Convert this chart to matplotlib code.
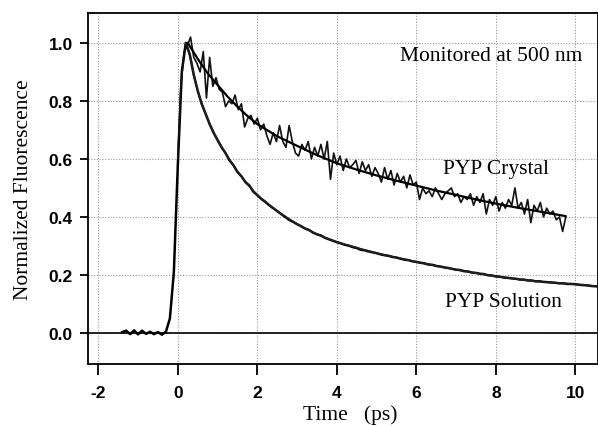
import numpy as np
import matplotlib
matplotlib.use("Agg")
import matplotlib.pyplot as plt

# ---- data ----
crys_t0, crys_dt = 0.0, 0.08
crystal = [0.60, 0.86, 0.97, 0.99, 1.02, 0.95, 0.93, 0.90, 0.97, 0.81,
           0.95, 0.85, 0.88, 0.84, 0.83, 0.78, 0.80, 0.79, 0.82, 0.77,
           0.79, 0.71, 0.74, 0.75, 0.72, 0.74, 0.70, 0.72, 0.68, 0.65,
           0.69, 0.66, 0.715, 0.66, 0.64, 0.715, 0.66, 0.62, 0.61, 0.65,
           0.63, 0.66, 0.60, 0.64, 0.61, 0.65, 0.60, 0.66, 0.53, 0.62,
           0.58, 0.61, 0.56, 0.60, 0.57, 0.58, 0.595, 0.55, 0.59, 0.56,
           0.58, 0.54, 0.57, 0.55, 0.52, 0.57, 0.53, 0.56, 0.51, 0.55,
           0.52, 0.54, 0.50, 0.545, 0.51, 0.52, 0.46, 0.50, 0.48, 0.49,
           0.47, 0.50, 0.48, 0.46, 0.48, 0.49, 0.50, 0.47, 0.48, 0.45,
           0.47, 0.46, 0.48, 0.44, 0.47, 0.45, 0.48, 0.41, 0.46, 0.44,
           0.47, 0.42, 0.45, 0.43, 0.46, 0.44, 0.50, 0.43, 0.45, 0.41,
           0.46, 0.38, 0.44, 0.42, 0.45, 0.40, 0.43, 0.41, 0.42, 0.39,
           0.40, 0.35, 0.40]

sol_t0, sol_dt = -1.4, 0.1
solution = [0.003, 0.008, -0.004, 0.009, -0.005, 0.008, -0.003, 0.004, -0.004, 0.003,
            -0.006, 0.004, 0.05, 0.21, 0.58, 0.90, 1.00, 0.96, 0.89, 0.835,
            0.79, 0.755, 0.72, 0.69, 0.665, 0.64, 0.62, 0.595, 0.578, 0.555,
            0.54, 0.52, 0.508, 0.487, 0.475, 0.462, 0.452, 0.44, 0.43, 0.42,
            0.41, 0.40, 0.39, 0.383, 0.375, 0.368, 0.36, 0.355, 0.346, 0.34,
            0.336, 0.328, 0.323, 0.318, 0.313, 0.309, 0.304, 0.301, 0.296, 0.293,
            0.287, 0.285, 0.281, 0.278, 0.275, 0.271, 0.268, 0.266, 0.262, 0.26,
            0.256, 0.253, 0.251, 0.247, 0.245, 0.242, 0.240, 0.236, 0.235, 0.231,
            0.229, 0.226, 0.224, 0.221, 0.218, 0.217, 0.213, 0.212, 0.208, 0.207,
            0.204, 0.203, 0.199, 0.198, 0.195, 0.194, 0.191, 0.190, 0.188, 0.187,
            0.184, 0.184, 0.181, 0.181, 0.178, 0.178, 0.176, 0.175, 0.174, 0.173,
            0.171, 0.171, 0.169, 0.169, 0.168, 0.166, 0.165, 0.164, 0.162, 0.161,
            0.160]

crys_fit_t = [0.25, 0.5, 0.75, 1.0, 1.25, 1.5, 1.75, 2.0, 2.5, 3.0, 3.5, 4.0, 4.5,
              5.0, 5.5, 6.0, 6.5, 7.0, 7.5, 8.0, 8.5, 9.0, 9.5, 9.75]
crys_fit = [1.0, 0.945, 0.895, 0.855, 0.815, 0.78, 0.748, 0.72, 0.678, 0.645, 0.613,
            0.585, 0.563, 0.543, 0.525, 0.508, 0.491, 0.476, 0.46, 0.446, 0.433,
            0.421, 0.409, 0.403]

sol_fit_t = [0.2, 0.3, 0.4, 0.5, 0.6, 0.8, 1.0, 1.25, 1.5, 1.75, 2.0, 2.5, 3.0,
             3.5, 4.0, 5.0, 6.0, 7.0, 8.0, 9.0, 10.0, 10.6]
sol_fit = [1.0, 0.96, 0.89, 0.835, 0.79, 0.72, 0.665, 0.608, 0.557, 0.513, 0.475,
           0.42, 0.375, 0.34, 0.313, 0.275, 0.245, 0.218, 0.195, 0.178, 0.168, 0.16]

xticks = [-2, 0, 2, 4, 6, 8, 10]
yticks = [0.0, 0.2, 0.4, 0.6, 0.8, 1.0]

crys_t = crys_t0 + crys_dt * np.arange(len(crystal))
sol_t = sol_t0 + sol_dt * np.arange(len(solution))

fig = plt.figure(figsize=(5.98, 4.27), dpi=100)
ax = fig.add_axes([88/598, 1-365/427, 1-88/598, (365-14)/427])

ax.axhline(0, color='black', lw=1.2, zorder=2)
ax.plot(sol_t, solution, color='black', lw=1.8, zorder=3)
ax.plot(sol_fit_t, sol_fit, color='#222222', lw=1.2, zorder=3)
ax.plot(crys_t, crystal, color='#111111', lw=1.2, zorder=3)
ax.plot(crys_fit_t, crys_fit, color='black', lw=1.6, zorder=4)

ax.set_xlim(-2.26, 10.57)
ax.set_ylim(-0.107, 1.103)
ax.set_xticks(xticks)
ax.set_xticklabels([str(v) for v in xticks])
ax.set_yticks(yticks)
ax.set_yticklabels([f"{v:.1f}" for v in yticks])
ax.grid(True, color='#999999', linestyle=(0, (1, 1.5)), lw=0.8)
ax.set_axisbelow(True)

for s in ax.spines.values():
    s.set_linewidth(1.3)
ax.tick_params(axis='both', direction='out', width=1.3, labelsize=12.5)
ax.tick_params(axis='x', length=8, pad=7)
ax.tick_params(axis='y', length=6, pad=5)
for lab in ax.get_xticklabels() + ax.get_yticklabels():
    lab.set_family('Liberation Sans')
    lab.set_fontweight('bold')

serif = 'Liberation Serif'
ax.set_xlabel("Time   (ps)", family=serif, fontsize=15.5)
ax.xaxis.set_label_coords((350 - 88) / 510, -(415 - 365) / 351)
ax.xaxis.label.set_va('center')
ax.set_ylabel("Normalized Fluorescence", family=serif, fontsize=15.5)
ax.yaxis.set_label_coords(-(88 - 23) / 510, 0.5)
ax.yaxis.label.set_va('center')

ax.text(5.585, 0.955, "Monitored at 500 nm", family=serif, fontsize=15.5,
        ha='left', va='center')
ax.text(6.67, 0.566, "PYP Crystal", family=serif, fontsize=15.5, ha='left', va='center')
ax.text(6.72, 0.110, "PYP Solution", family=serif, fontsize=15.5, ha='left', va='center')

fig.savefig("out.png", dpi=100)
